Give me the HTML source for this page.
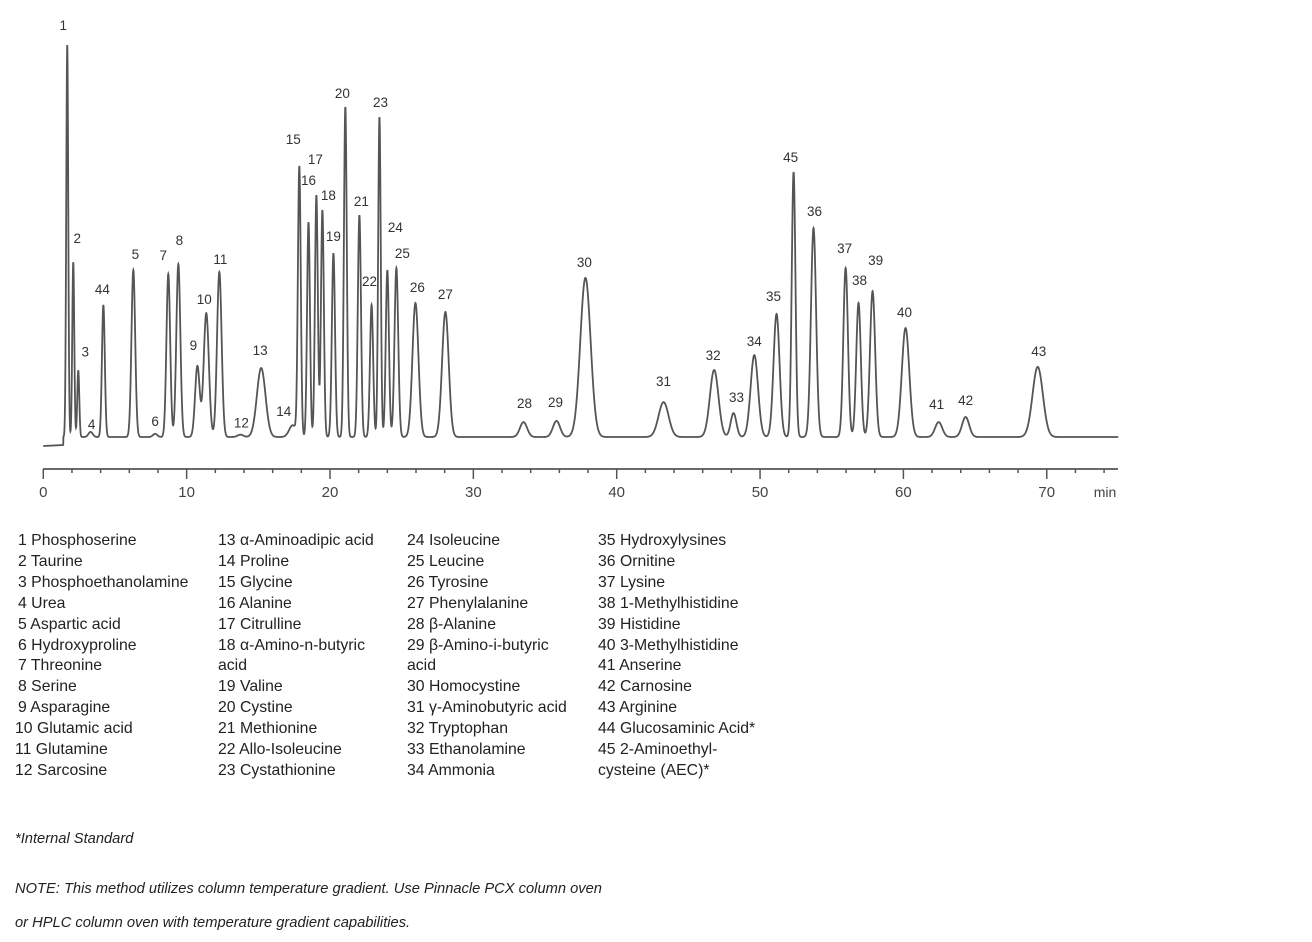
<!DOCTYPE html>
<html><head><meta charset="utf-8"><style>
body{margin:0;background:#fff;width:1312px;height:942px;overflow:hidden;position:relative;font-family:"Liberation Sans",sans-serif}
svg{position:absolute;left:0;top:0}
.leg{position:absolute;font-size:15.8px;color:#222;line-height:20.9px;white-space:nowrap}
.note{position:absolute;font-size:14.7px;font-style:italic;color:#222}
</style></head><body>
<svg id="chart" width="1312" height="510"></svg>
<div class="leg" style="left:18px;top:531px">1 Phosphoserine<br>2 Taurine<br>3 Phosphoethanolamine<br>4 Urea<br>5 Aspartic acid<br>6 Hydroxyproline<br>7 Threonine<br>8 Serine<br>9 Asparagine<br><span style="margin-left:-3px">10 Glutamic acid</span><br><span style="margin-left:-3px">11 Glutamine</span><br><span style="margin-left:-3px">12 Sarcosine</span></div>
<div class="leg" style="left:218px;top:531px">13 α-Aminoadipic acid<br>14 Proline<br>15 Glycine<br>16 Alanine<br>17 Citrulline<br>18 α-Amino-n-butyric<br>acid<br>19 Valine<br>20 Cystine<br>21 Methionine<br>22 Allo-Isoleucine<br>23 Cystathionine</div>
<div class="leg" style="left:407px;top:531px">24 Isoleucine<br>25 Leucine<br>26 Tyrosine<br>27 Phenylalanine<br>28 β-Alanine<br>29 β-Amino-i-butyric<br>acid<br>30 Homocystine<br>31 γ-Aminobutyric acid<br>32 Tryptophan<br>33 Ethanolamine<br>34 Ammonia</div>
<div class="leg" style="left:598px;top:531px">35 Hydroxylysines<br>36 Ornitine<br>37 Lysine<br>38 1-Methylhistidine<br>39 Histidine<br>40 3-Methylhistidine<br>41 Anserine<br>42 Carnosine<br>43 Arginine<br>44 Glucosaminic Acid*<br>45 2-Aminoethyl-<br>cysteine (AEC)*</div>
<div class="note" style="left:15px;top:831px">*Internal Standard</div>
<div class="note" style="left:15px;top:881px">NOTE: This method utilizes column temperature gradient. Use Pinnacle PCX column oven</div>
<div class="note" style="left:15px;top:915px">or HPLC column oven with temperature gradient capabilities.</div>
<script>
const peakLabels=["1","2","3","4","44","5","6","7","8","9","10","11","12","13","14","15","16","17","18","19","20","21","22","23","24","25","26","27","28","29","30","31","32","33","34","35","45","36","37","38","39","40","41","42","43"];
const peakTimes=[1.67,2.09,2.44,3.3,4.19,6.28,7.8,8.72,9.42,10.75,11.37,12.28,13.75,15.2,17.4,17.86,18.5,19.05,19.47,20.24,21.07,22.05,22.9,23.45,24.0,24.63,25.96,28.05,33.5,35.8,37.82,43.27,46.8,48.15,49.6,51.15,52.34,53.73,55.97,56.87,57.85,60.15,62.46,64.34,69.37];
const peakHeights=[100,44.6,17,1.3,33.7,42.6,0.8,41.6,44.1,18.1,31.6,42.1,0.6,17.6,3,68.6,54.8,61.7,57.9,46.9,84.2,56.6,33.7,81.6,42.6,43.1,34.2,31.9,3.8,4.1,40.6,8.9,17.1,6.1,20.9,31.4,67.6,53.3,43.1,34.2,37.2,27.8,3.8,5.1,17.9];
const peakWidths=[0.07,0.07,0.07,0.15,0.1,0.13,0.15,0.13,0.14,0.16,0.18,0.16,0.2,0.3,0.25,0.1,0.1,0.1,0.1,0.11,0.1,0.11,0.11,0.09,0.11,0.13,0.21,0.23,0.25,0.25,0.36,0.35,0.3,0.2,0.26,0.21,0.13,0.18,0.16,0.16,0.18,0.26,0.25,0.25,0.36];
const xTicks=[0,10,20,30,40,50,60,70];
const xMinor=[2,4,6,8,12,14,16,18,22,24,26,28,32,34,36,38,42,44,46,48,52,54,56,58,62,64,66,68,72,74];
// label layout offsets (px), not data
const lblDx=[-4,4,7,1,-1,2,0,-5,1,-4,-2,1,1,-1,-9,-6,0,-1,6,0,-3,2,-2,1,8,6,2,0,1,-1,-1,0,-1,3,0,-3,-3,1,-1,1,3,-1,-2,0,1];
const lblDy=[-20,-24,-19,-8,-16,-16,-13,-19,-24,-21,-14,-13,-12,-18,-14,-29,-42,-36,-15,-17,-14,-14,-24,-15,-43,-15,-16,-18,-19,-19,-16,-21,-15,-16,-14,-18,-15,-17,-20,-23,-31,-16,-18,-17,-16];
const NS="http://www.w3.org/2000/svg";
const svg=document.getElementById('chart');
const x=t=>43.3+t*14.335;
const y=v=>437-v*3.92;
function signal(t){let s=0;for(let i=0;i<peakTimes.length;i++){const d=(t-peakTimes[i])/peakWidths[i];if(Math.abs(d)<6)s+=peakHeights[i]*Math.exp(-0.5*d*d);}
 return s;}
function base(t){return t<1.4?446-t*0.7:437;}
let d="";
for(let t=0;t<=75;t+=0.01){const px=x(t);const py=base(t)-signal(t)*3.92;d+=(d?"L":"M")+px.toFixed(2)+","+py.toFixed(2);}
const path=document.createElementNS(NS,'path');
path.setAttribute('d',d);path.setAttribute('fill','none');path.setAttribute('stroke','#555');path.setAttribute('stroke-width','1.8');


svg.appendChild(path);
peakLabels.forEach((L,i)=>{
 const tx=document.createElementNS(NS,'text');
 const ay=y(peakHeights[i]);
 tx.setAttribute('x',x(peakTimes[i])+lblDx[i]);tx.setAttribute('y',ay+lblDy[i]+5);
 tx.setAttribute('text-anchor','middle');tx.setAttribute('font-size','13.5');tx.setAttribute('fill','#333');
 tx.setAttribute('font-family','Liberation Sans, sans-serif');
 tx.textContent=L;
 
 
 svg.appendChild(tx);
});
const ax=document.createElementNS(NS,'line');
ax.setAttribute('x1',43);ax.setAttribute('x2',1118);ax.setAttribute('y1',469);ax.setAttribute('y2',469);ax.setAttribute('stroke','#555');ax.setAttribute('stroke-width','1.8');


svg.appendChild(ax);
xTicks.forEach(v=>{
 const l=document.createElementNS(NS,'line');
 l.setAttribute('x1',x(v));l.setAttribute('x2',x(v));l.setAttribute('y1',469);l.setAttribute('y2',479);l.setAttribute('stroke','#555');l.setAttribute('stroke-width','1.5');
 
 
 svg.appendChild(l);
 const t=document.createElementNS(NS,'text');
 t.setAttribute('x',x(v));t.setAttribute('y',497);t.setAttribute('text-anchor','middle');t.setAttribute('font-size','15');t.setAttribute('fill','#444');
 t.setAttribute('font-family','Liberation Sans, sans-serif');
 t.textContent=v;
 
 
 svg.appendChild(t);
});
xMinor.forEach(v=>{
 const l=document.createElementNS(NS,'line');
 l.setAttribute('x1',x(v));l.setAttribute('x2',x(v));l.setAttribute('y1',469);l.setAttribute('y2',473);l.setAttribute('stroke','#555');l.setAttribute('stroke-width','1.5');
 
 
 svg.appendChild(l);
});
const u=document.createElementNS(NS,'text');
u.setAttribute('x',1105);u.setAttribute('y',497);u.setAttribute('text-anchor','middle');u.setAttribute('font-size','14');u.setAttribute('fill','#444');
u.setAttribute('font-family','Liberation Sans, sans-serif');
u.textContent='min';


svg.appendChild(u);
</script>
</body></html>
